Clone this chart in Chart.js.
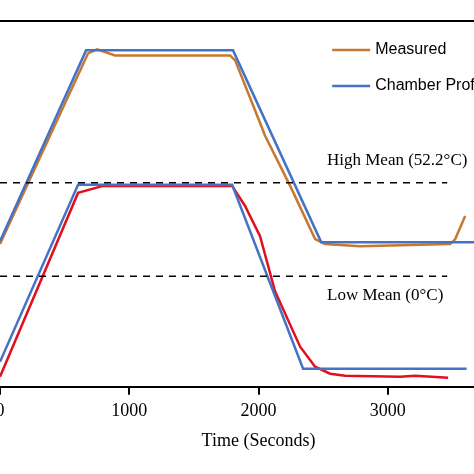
<!DOCTYPE html>
<html>
<head>
<meta charset="utf-8">
<script src="https://cdn.jsdelivr.net/npm/chart.js@4"></script>
<style>
  body { margin: 0; background: #fff; }
  #wrap { position: relative; width: 474px; height: 474px; overflow: hidden; }
  #c { position: absolute; left: -50px; top: 0; }
</style>
</head>
<body>
<div id="wrap"><canvas id="c" width="591" height="474"></canvas></div>
<script>
// time in seconds, temperature in °C
const highProfile = [[0, 19.6], [666, 126.2], [1803, 126.2], [2485, 19.1], [3700, 19.1]];
const highMeasured = [[0, 18.0], [681, 124.5], [751, 126.8], [890, 123.4], [1084, 123.4], [1780, 123.4],
  [1819, 120.6], [1974, 92.6], [2051, 78.5], [2245, 50.5], [2438, 20.8], [2515, 18.0], [2786, 16.8],
  [3483, 18.0], [3522, 20.8], [3599, 33.7]];
const lowProfile = [[0, -47.7], [604, 51.1], [1796, 51.1], [2345, -51.6], [3610, -51.6]];
const lowMeasured = [[0, -56.1], [604, 46.6], [797, 50.5], [1796, 50.5], [1896, 39.3], [2012, 22.4],
  [2128, -8.4], [2322, -39.3], [2438, -50.5], [2554, -54.4], [2670, -55.5], [3096, -56.1],
  [3212, -55.5], [3467, -56.7]];
const highMean = 52.2;
const lowMean = 0;
const meanEnd = 3460;
const xTicks = [0, 1000, 2000, 3000, 4000];

const pts = arr => arr.map(p => ({ x: p[0], y: p[1] }));
const line = (data, color, extra) => Object.assign({
  data: pts(data), borderColor: color, borderWidth: 2.5, pointRadius: 0, tension: 0, fill: false
}, extra || {});

const extras = {
  id: 'extras',
  afterDraw(chart) {
    const { ctx, chartArea: a, scales: { x, y } } = chart;
    ctx.save();
    ctx.strokeStyle = '#000';
    ctx.lineWidth = 2;
    ctx.beginPath(); ctx.moveTo(a.left, a.top); ctx.lineTo(a.right, a.top); ctx.stroke();
    ctx.fillStyle = '#000';
    ctx.font = '17px "Liberation Serif"';
    ctx.textBaseline = 'middle';
    ctx.fillText('High Mean (52.2°C)', x.getPixelForValue(2530), y.getPixelForValue(highMean) - 22);
    ctx.fillText('Low Mean (0°C)', x.getPixelForValue(2530), y.getPixelForValue(lowMean) + 19);
    // legend
    ctx.font = '16px "Liberation Sans"';
    const items = [['Measured', '#c8782e'], ['Chamber Profile', '#4472c4']];
    items.forEach((it, i) => {
      const ly = 50 + i * 36, lx = x.getPixelForValue(2570);
      ctx.strokeStyle = it[1]; ctx.lineWidth = 2.5;
      ctx.beginPath(); ctx.moveTo(lx, ly); ctx.lineTo(lx + 38, ly); ctx.stroke();
      ctx.fillText(it[0], lx + 43, ly);
    });
    ctx.restore();
  }
};

new Chart(document.getElementById('c'), {
  type: 'line',
  data: {
    datasets: [
      line([[0, highMean], [meanEnd, highMean]], '#000', { borderWidth: 1.5, borderDash: [7, 6] }),
      line([[0, lowMean], [meanEnd, lowMean]], '#000', { borderWidth: 1.5, borderDash: [7, 6] }),
      line(highProfile, '#4472c4'),
      line(highMeasured, '#c8782e'),
      line(lowProfile, '#4472c4'),
      line(lowMeasured, '#e0101e')
    ]
  },
  options: {
    responsive: false,
    animation: false,
    layout: { padding: { left: 50, right: 13, top: 21, bottom: 18 } },
    plugins: { legend: { display: false }, tooltip: { enabled: false } },
    scales: {
      x: {
        type: 'linear', min: 0, max: 4000,
        afterBuildTicks: s => { s.ticks = xTicks.map(v => ({ value: v })); },
        grid: { drawOnChartArea: false, color: '#000', tickLength: 8, lineWidth: 2 },
        border: { color: '#000', width: 2 },
        ticks: { color: '#000', font: { family: 'Liberation Serif', size: 18 }, padding: 6,
          callback: v => String(v) },
        title: { display: true, text: 'Time (Seconds)', color: '#000',
          font: { family: 'Liberation Serif', size: 18 }, padding: { top: 2 } }
      },
      y: { display: false, min: -61.7, max: 142.6 }
    }
  },
  plugins: [extras]
});
</script>
</body>
</html>
